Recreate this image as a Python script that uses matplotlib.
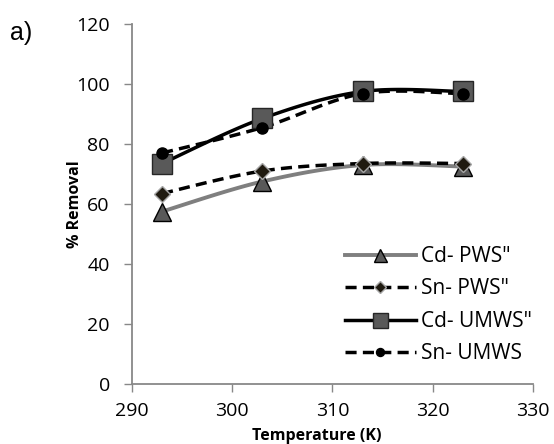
import numpy as np
import matplotlib
matplotlib.use("Agg")
import matplotlib.pyplot as plt
from matplotlib.lines import Line2D

plt.rcParams['font.family'] = ['Open Sans', 'DejaVu Sans']

temperature = [293, 303, 313, 323]
cd_pws = [57.5, 67.5, 73.0, 72.5]
sn_pws = [63.5, 71.0, 73.5, 73.5]
cd_umws = [73.5, 88.5, 97.5, 97.5]
sn_umws = [77.0, 85.5, 96.8, 96.8]

labels = ['Cd- PWS"', 'Sn- PWS"', 'Cd- UMWS"', 'Sn- UMWS']
x_ticks = [290, 300, 310, 320, 330]
y_ticks = [0, 20, 40, 60, 80, 100, 120]


def smooth(x, y, n=40):
    """Spreadsheet-style smoothed line: cubic Bezier segments through the points."""
    x = np.asarray(x, float)
    y = np.asarray(y, float)
    px = np.concatenate([[x[0]], x, [x[-1]]])
    py = np.concatenate([[y[0]], y, [y[-1]]])
    xs, ys = [], []
    t = np.linspace(0, 1, n)
    for i in range(len(x) - 1):
        p0 = np.array([px[i + 1], py[i + 1]])
        p3 = np.array([px[i + 2], py[i + 2]])
        c1 = p0 + (np.array([px[i + 2], py[i + 2]]) - np.array([px[i], py[i]])) / 6
        c2 = p3 - (np.array([px[i + 3], py[i + 3]]) - np.array([px[i + 1], py[i + 1]])) / 6
        b = ((1 - t) ** 3)[:, None] * p0 + (3 * (1 - t) ** 2 * t)[:, None] * c1 \
            + (3 * (1 - t) * t ** 2)[:, None] * c2 + (t ** 3)[:, None] * p3
        xs.extend(b[:, 0])
        ys.extend(b[:, 1])
    return np.array(xs), np.array(ys)


fig = plt.figure(figsize=(5.54, 4.44), dpi=100)
ax = fig.add_axes([0.2383, 0.135, 0.7237, 0.811])

dash = (0, (3.2, 1.8))
series = [
    (cd_pws, dict(color='#7f7f7f', lw=2.8, ls='-'),
     dict(marker='^', ms=13, mfc='#595959', mec='black', mew=1.0)),
    (sn_pws, dict(color='black', lw=2.5, ls=dash),
     dict(marker='D', ms=8, mfc='#1f1a10', mec='#a6a6a6', mew=1.0)),
    (cd_umws, dict(color='black', lw=2.5, ls='-'),
     dict(marker='s', ms=15, mfc='#595959', mec='#262626', mew=1.0)),
    (sn_umws, dict(color='black', lw=2.5, ls=dash),
     dict(marker='o', ms=8, mfc='black', mec='black', mew=1.0)),
]

handles = []
for (vals, lstyle, mstyle), lab in zip(series, labels):
    sx, sy = smooth(temperature, vals)
    ax.plot(sx, sy, zorder=2, **lstyle)
    ax.plot(temperature, vals, ls='none', zorder=3, **mstyle)
    handles.append(Line2D([], [], **lstyle, **mstyle))

ax.set_xlim(290, 330)
ax.set_ylim(0, 120)
ax.set_xticks(x_ticks)
ax.set_yticks(y_ticks)
ax.tick_params(labelsize=14, color='#888888', length=6, width=1)
ax.tick_params(axis='y', pad=10)
ax.tick_params(axis='x', pad=7)
for s in ['top', 'right']:
    ax.spines[s].set_visible(False)
for s in ['left', 'bottom']:
    ax.spines[s].set_color('#888888')
    ax.spines[s].set_linewidth(1.3)

ax.set_xlabel('Temperature (K)', fontsize=11.5, fontweight='bold', va='center')
ax.set_ylabel('% Removal', fontsize=11.5, fontweight='bold', va='center')
ax.xaxis.set_label_coords(0.46, -52 / 360)
ax.yaxis.set_label_coords(-57 / 401, 0.5)

ax.legend(handles=handles, labels=labels, loc='upper left', frameon=False,
          fontsize=15, handlelength=3.4, handletextpad=0.25, labelspacing=0.55,
          markerscale=0.72, borderpad=0, borderaxespad=0,
          bbox_to_anchor=(345 / 554, 1 - 246 / 444), bbox_transform=fig.transFigure)

fig.text(10 / 554, 1 - 33 / 444, 'a)', fontsize=18, va='center',
         family=['Liberation Sans', 'DejaVu Sans'])

fig.savefig('out.png', dpi=100)
